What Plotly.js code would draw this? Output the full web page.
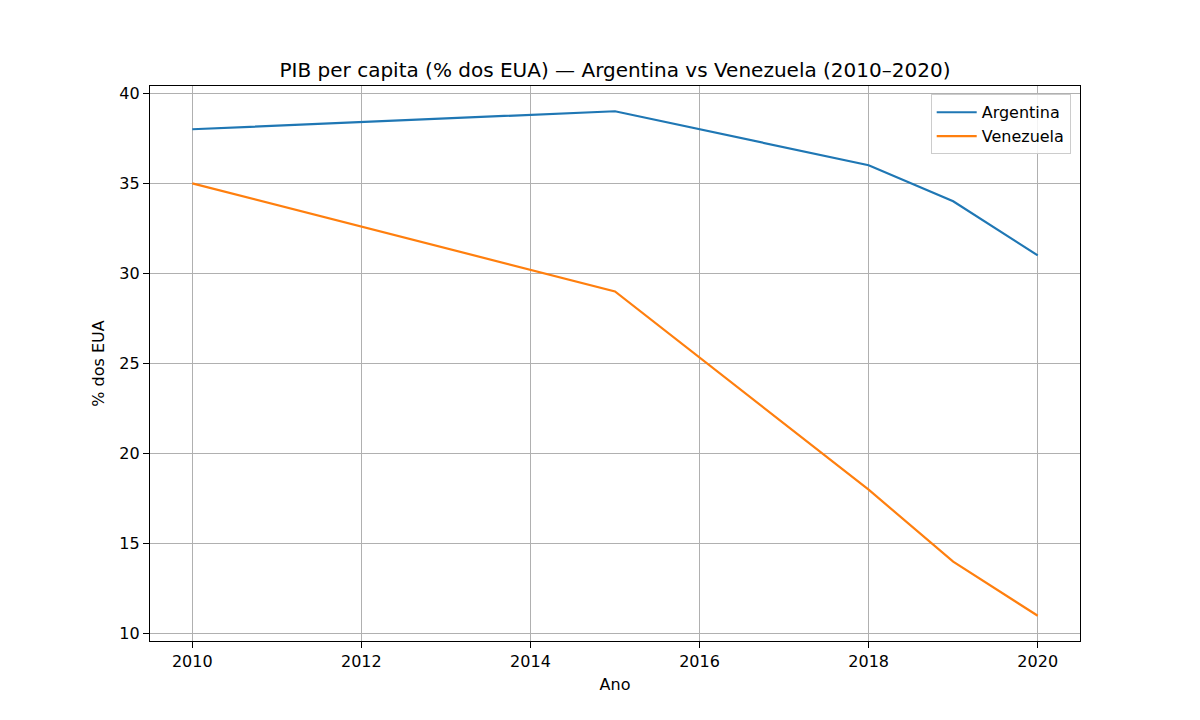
<!DOCTYPE html>
<html>
<head>
<meta charset="utf-8">
<script src="https://cdn.plot.ly/plotly-3.0.1.min.js"></script>
<style>html,body{margin:0;padding:0;background:#fff;}#chart{width:1200px;height:720px;}</style>
</head>
<body>
<div id="chart"></div>
<script>
const years = [2010, 2015, 2018, 2019, 2020];
const argentina = [38, 39, 36, 34, 31];
const venezuela = [35, 29, 18, 14, 11];
const xTicks = [2010, 2012, 2014, 2016, 2018, 2020];
const yTicks = [10, 15, 20, 25, 30, 35, 40];

const font = 'DejaVu Sans, sans-serif';
const traces = [
  {x: years, y: argentina, name: 'Argentina', mode: 'lines', line: {color: '#1f77b4', width: 2.2}},
  {x: years, y: venezuela, name: 'Venezuela', mode: 'lines', line: {color: '#ff7f0e', width: 2.2}}
];
const axisCommon = {
  showline: true, linecolor: '#000', linewidth: 1.2, mirror: true,
  ticks: 'outside', ticklen: 6, tickwidth: 1.2, tickcolor: '#000',
  showgrid: true, gridcolor: '#b0b0b0', gridwidth: 1, zeroline: false,
  tickfont: {family: font, size: 16, color: '#000'}
};
const layout = {
  width: 1200, height: 720,
  paper_bgcolor: '#fff', plot_bgcolor: '#fff',
  margin: {l: 150, r: 120, t: 86, b: 79},
  title: {text: 'PIB per capita (% dos EUA) — Argentina vs Venezuela (2010–2020)', font: {family: font, size: 20, color: '#000'}, xref: 'paper', x: 0.5, xanchor: 'center', y: 0.903, yanchor: 'middle'},
  xaxis: Object.assign({}, axisCommon, {range: [2009.5, 2020.5], tickvals: xTicks, ticktext: xTicks.map(String), title: {text: 'Ano', font: {family: font, size: 16, color: '#000'}, standoff: 8}}),
  yaxis: Object.assign({}, axisCommon, {range: [9.6, 40.4], tickvals: yTicks, ticktext: yTicks.map(String), title: {text: '% dos EUA', font: {family: font, size: 16, color: '#000'}, standoff: 10}}),
  legend: {x: 0.99, y: 0.985, xanchor: 'right', yanchor: 'top', bgcolor: 'rgba(255,255,255,0.85)', bordercolor: '#cccccc', borderwidth: 1, font: {family: font, size: 16, color: '#000'}, itemwidth: 40},
  showlegend: true
};
Plotly.newPlot('chart', traces, layout, {displayModeBar: false, staticPlot: true});
</script>
</body>
</html>
